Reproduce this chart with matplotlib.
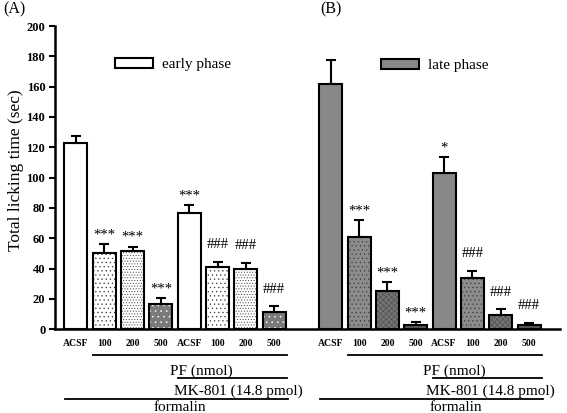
import matplotlib
matplotlib.use("Agg")
import matplotlib.pyplot as plt
from matplotlib.patches import Patch
import numpy as np

plt.rcParams["font.family"] = ["Liberation Serif", "DejaVu Serif"]
plt.rcParams["hatch.linewidth"] = 0.4

groups = ["ACSF", "100", "200", "500", "ACSF", "100", "200", "500"]

early_mean = [123, 50.5, 51.5, 16.5, 76.5, 41, 39.5, 11.5]
early_sem = [4.5, 5.5, 3, 4, 5.5, 3.5, 4, 3.5]
early_sig = ["", "***", "***", "***", "***", "###", "###", "###"]

late_mean = [161.5, 60.5, 25, 3, 103, 34, 9.5, 2.5]
late_sem = [16, 11.5, 6, 1.8, 10.5, 4.5, 3.5, 1.8]
late_sig = ["", "***", "***", "***", "*", "###", "###", "###"]

# fill / hatch / hatch colour per bar, same dose order in both groups
early_style = [("white", None, None), ("white", "....", "#333333"),
               ("white", "......", "#444444"), ("#7a7a7a", "...", "white")]
late_style = [("#888888", None, None), ("#8c8c8c", "....", "#3c3c3c"),
              ("#747474", "xxxxxx", "#4a4a4a"), ("#585858", None, None)]

fig = plt.figure(figsize=(5.67, 4.13), dpi=100)
ax = fig.add_axes([0.097, 0.203, 0.891, 0.734])

n = len(groups)
x_early = np.arange(n)
x_late = np.arange(n) + n + 1
width = 0.81


def draw_group(xs, means, sems, sigs, styles):
    for i, (xv, m) in enumerate(zip(xs, means)):
        fc, hatch, hc = styles[i % 4]
        ax.bar(xv, m, width, color=fc, linewidth=0, zorder=2)
        if hatch:
            ax.bar(xv, m, width, fill=False, hatch=hatch, edgecolor=hc,
                   linewidth=0, zorder=2.5)
        ax.bar(xv, m, width, fill=False, edgecolor="black", linewidth=1.5, zorder=3)
    ax.errorbar(xs, means, yerr=[np.zeros(len(sems)), sems], fmt="none",
                ecolor="black", elinewidth=1.5, capsize=3.5, capthick=1.5, zorder=4)
    for xv, m, s, t in zip(xs, means, sems, sigs):
        if not t:
            continue
        off = 10 if t.startswith("#") else 4
        ax.annotate(t, (xv, m + s), xytext=(0, off), textcoords="offset points",
                    ha="center", va="baseline", fontsize=10.5)


draw_group(x_early, early_mean, early_sem, early_sig, early_style)
draw_group(x_late, late_mean, late_sem, late_sig, late_style)

ax.set_xlim(-0.74, 17.1)
ax.set_ylim(0, 200)
ax.set_yticks(np.arange(0, 201, 20))
ax.tick_params(axis="y", direction="out", length=4, width=1.5, labelsize=9, pad=3)
for lab in ax.get_yticklabels():
    lab.set_fontweight("bold")
ax.set_xticks(np.concatenate([x_early, x_late]))
ax.set_xticklabels(groups + groups, fontsize=7, fontweight="bold")
ax.tick_params(axis="x", length=0, pad=7)
for side in ["top", "right"]:
    ax.spines[side].set_visible(False)
ax.spines["left"].set_linewidth(1.8)
ax.spines["bottom"].set_linewidth(1.8)
ax.set_ylabel("Total licking time (sec)", fontsize=12.5)
ax.yaxis.set_label_coords(-0.061, 0.525)

# treatment brackets under each group
tr = ax.get_xaxis_transform()
for x0, pf_c, mk_c, f_c in [(x_early[0], 4.42, 5.72, 3.67), (x_late[0], 4.37, 5.65, 4.4)]:
    ax.plot([x0 + 0.6, x0 + 7.45], [-0.086, -0.086], transform=tr, color="black",
            lw=1.3, clip_on=False)
    ax.text(x0 + pf_c, -0.138, "PF (nmol)", transform=tr, ha="center", va="center",
            fontsize=11)
    ax.plot([x0 + 3.62, x0 + 7.45], [-0.161, -0.161], transform=tr, color="black",
            lw=1.3, clip_on=False)
    ax.text(x0 + mk_c, -0.205, "MK-801 (14.8 pmol)", transform=tr, ha="center",
            va="center", fontsize=11)
    ax.plot([x0 - 0.38, x0 + 7.5], [-0.231, -0.231], transform=tr, color="black",
            lw=1.3, clip_on=False)
    ax.text(x0 + f_c, -0.259, "formalin", transform=tr, ha="center", va="center",
            fontsize=11)

leg_kw = dict(frameon=False, fontsize=11, handlelength=2.48, handleheight=0.59,
              handletextpad=0.59, borderpad=0, borderaxespad=0, loc="center left")
leg1 = ax.legend([Patch(facecolor="white", edgecolor="black", linewidth=1.5)],
                 ["early phase"], bbox_to_anchor=(0.119, 0.872), **leg_kw)
ax.add_artist(leg1)
ax.legend([Patch(facecolor="#888888", edgecolor="black", linewidth=1.5)],
          ["late phase"], bbox_to_anchor=(0.646, 0.869), **leg_kw)

fig.text(3 / 567, 1 - 9 / 413, "(A)", fontsize=11.5, ha="left", va="center")
fig.text(320 / 567, 1 - 9 / 413, "(B)", fontsize=11.5, ha="left", va="center")

fig.savefig("out.png", dpi=100)
